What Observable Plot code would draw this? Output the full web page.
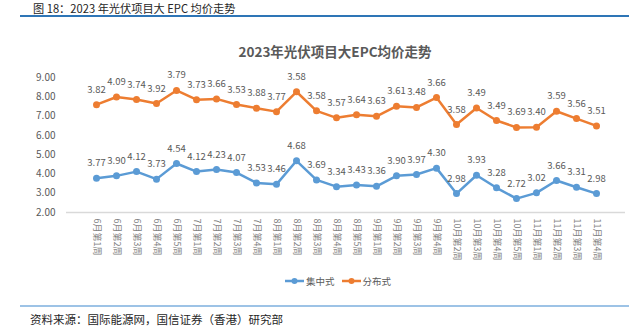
<!DOCTYPE html>
<html>
<head>
<meta charset="utf-8">
<script src="https://cdn.jsdelivr.net/npm/d3@7"></script>
<script src="https://cdn.jsdelivr.net/npm/@observablehq/plot@0.6"></script>
<style>
  html, body { margin: 0; padding: 0; background: #fff; }
  #wrap { position: relative; width: 643px; height: 333px; overflow: hidden; font-family: "Noto Sans CJK SC", "Noto Sans", sans-serif; }
  #chart { position: absolute; left: 0; top: 0; }
  .abs { position: absolute; white-space: nowrap; }
  #header { left: 33px; top: 0px; font-size: 11.2px; color: #262626; line-height: 16px; }
  #topline { left: 20px; top: 15px; width: 609px; height: 2px; background: #2e75b6; }
  #title { left: 0; width: 670px; text-align: center; top: 41px; font-size: 13.5px; font-weight: bold; color: #595959; line-height: 20px; }
  #legend { left: 285px; top: 274px; font-size: 9.5px; color: #595959; display: flex; align-items: center; line-height: 14px; }
  #legend .item { display: flex; align-items: center; margin-right: 7px; }
  #legend svg { margin-right: 2px; }
  #botline { left: 20px; top: 305px; width: 609px; height: 2px; background: #9dc3e6; }
  #source { left: 30px; top: 311px; font-size: 11.5px; color: #262626; line-height: 16px; }
</style>
</head>
<body>
<div id="wrap">
  <div id="chart"></div>
  <div class="abs" id="header">图 18：2023 年光伏项目大 EPC 均价走势</div>
  <div class="abs" id="topline"></div>
  <div class="abs" id="title">2023年光伏项目大EPC均价走势</div>
  <div class="abs" id="legend"></div>
  <div class="abs" id="botline"></div>
  <div class="abs" id="source">资料来源：国际能源网，国信证券（香港）研究部</div>
</div>
<script>
const weeks = [
  "6月第1周","6月第2周","6月第3周","6月第4周","6月第5周",
  "7月第1周","7月第2周","7月第3周","7月第4周",
  "8月第1周","8月第2周","8月第3周","8月第4周","8月第5周",
  "9月第1周","9月第2周","9月第3周","9月第4周",
  "10月第2周","10月第3周","10月第4周","10月第5周",
  "11月第1周","11月第2周","11月第3周","11月第4周"
];
const centralized = [3.77,3.90,4.12,3.73,4.54,4.12,4.23,4.07,3.53,3.46,4.68,3.69,3.34,3.43,3.36,3.90,3.97,4.30,2.98,3.93,3.28,2.72,3.02,3.66,3.31,2.98];
const distributed = [3.82,4.09,3.74,3.92,3.79,3.73,3.66,3.53,3.88,3.77,3.58,3.58,3.57,3.64,3.63,3.61,3.48,3.66,3.58,3.49,3.49,3.69,3.40,3.59,3.56,3.51];
const seriesNames = ["集中式","分布式"];
const seriesColors = ["#5b9bd5","#ed7d31"];
const yTicks = [2,3,4,5,6,7,8,9];

const rows = [];
weeks.forEach((w, i) => rows.push({week: w, type: seriesNames[0], value: centralized[i]}));
weeks.forEach((w, i) => rows.push({week: w, type: seriesNames[1], value: distributed[i]}));

const stackOpts = {x: "week", y: "value", z: "type", order: seriesNames};

const chart = Plot.plot({
  width: 643,
  height: 333,
  marginTop: 77,
  marginBottom: 121,
  marginLeft: 66,
  marginRight: 18,
  style: {fontFamily: "'Noto Sans CJK SC', 'Noto Sans', sans-serif", background: "transparent"},
  x: {type: "point", domain: weeks, range: [77, 614]},
  y: {domain: [2, 9]},
  color: {domain: seriesNames, range: seriesColors},
  marks: [
    Plot.ruleY([2], {stroke: "#d9d9d9", strokeWidth: 1.5}),
    Plot.axisY({ticks: yTicks, tickFormat: d3.format(".2f"), tickSize: 0, tickPadding: 11, fontSize: 10, color: "#595959", label: null}),
    Plot.axisX({tickRotate: 90, tickSize: 0, tickPadding: 6, fontSize: 9, color: "#7f7f7f", label: null}),
    Plot.lineY(rows, Plot.stackY2({...stackOpts, stroke: "type", strokeWidth: 2.5, curve: "linear"})),
    Plot.dot(rows, Plot.stackY2({...stackOpts, fill: "type", r: 3.5})),
    Plot.text(rows, Plot.stackY2({...stackOpts, text: d => d.value.toFixed(2), dy: -15, fontSize: 9.5, fill: "#595959"}))
  ]
});
document.getElementById("chart").appendChild(chart);

const legend = document.getElementById("legend");
seriesNames.forEach((name, i) => {
  const item = document.createElement("div");
  item.className = "item";
  item.innerHTML = `<svg width="19" height="8"><line x1="0" y1="4" x2="19" y2="4" stroke="${seriesColors[i]}" stroke-width="2.5"/><circle cx="9.5" cy="4" r="3" fill="${seriesColors[i]}"/></svg><span>${name}</span>`;
  legend.appendChild(item);
});
</script>
</body>
</html>
